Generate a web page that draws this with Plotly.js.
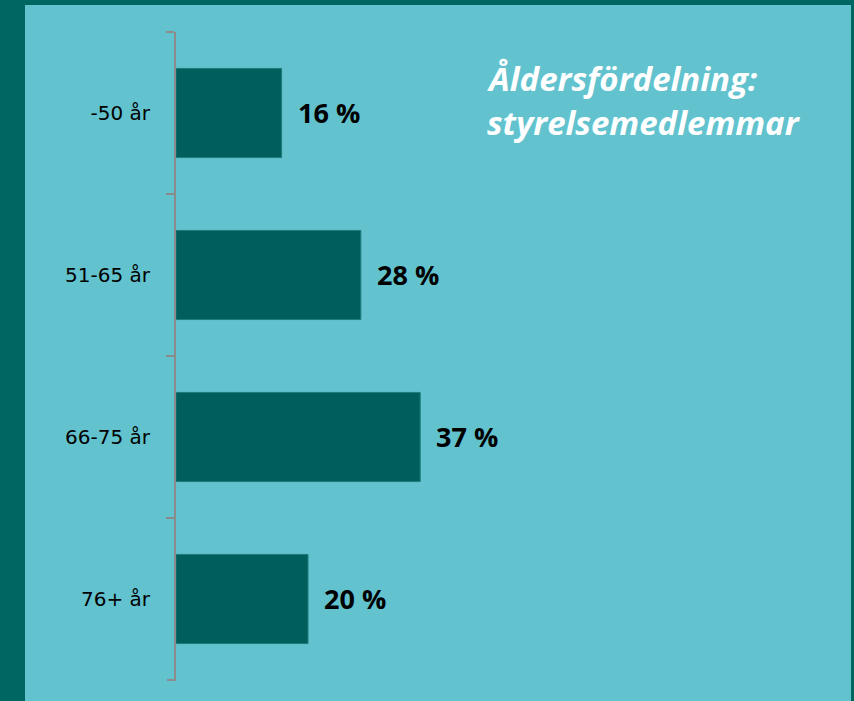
<!DOCTYPE html>
<html>
<head>
<meta charset="utf-8">
<script src="https://cdn.plot.ly/plotly-3.0.1.min.js"></script>
<style>
  html, body { margin: 0; padding: 0; background: #006661; width: 854px; height: 701px; overflow: hidden; }
  #chart { position: absolute; left: 25px; top: 5px; width: 826px; height: 696px; }
</style>
</head>
<body>
<div id="chart"></div>
<script>
// Data
const categories = ["-50 år", "51-65 år", "66-75 år", "76+ år"];
const shares = [16, 28, 37, 20];
const titleLines = ["Åldersfördelning:", "styrelsemedlemmar"];

const labelAnnotations = categories.map((c, i) => ({
  x: shares[i], y: c, xref: "x", yref: "y",
  text: shares[i] + " %", showarrow: false,
  xanchor: "left", yanchor: "middle", xshift: 14, yshift: 1,
  font: { family: "Open Sans", size: 27, color: "#000000", weight: 700 }
}));

const titleAnnotations = titleLines.map((t, i) => ({
  x: 0.468, y: [0.928, 0.861][i], xref: "paper", yref: "paper",
  text: "<b><i>" + t + "</i></b>", showarrow: false,
  xanchor: "left", yanchor: "middle",
  font: { family: "Open Sans", size: 33, color: "#ffffff" }
}));

const trace = {
  type: "bar",
  orientation: "h",
  x: shares,
  y: categories,
  marker: { color: "#005F5C", line: { color: "#1E7B79", width: 1 } },
  hoverinfo: "none"
};

const layout = {
  width: 826, height: 696,
  margin: { l: 151, r: 15, t: 27, b: 21 },
  paper_bgcolor: "#62C3CF",
  plot_bgcolor: "rgba(0,0,0,0)",
  showlegend: false,
  bargap: 0.45,
  xaxis: { visible: false, range: [0, 100], fixedrange: true },
  yaxis: {
    type: "category", range: [3.5, -0.5],
    showline: true, linecolor: "#8C8C8C", linewidth: 2,
    ticks: "outside", tickson: "boundaries", ticklen: 8, tickcolor: "#8C8C8C", tickwidth: 2,
    showgrid: false, zeroline: false,
    tickfont: { family: "DejaVu Sans", size: 20, color: "#000000" },
    ticklabelstandoff: 20
  },
  shapes: [{
    type: "line", xref: "paper", yref: "paper",
    xsizemode: "pixel", xanchor: 0, x0: -9, x1: 0,
    y0: 0, y1: 0,
    line: { color: "#8C8C8C", width: 2 }
  }],
  annotations: labelAnnotations.concat(titleAnnotations)
};

Plotly.newPlot("chart", [trace], layout, { displayModeBar: false, staticPlot: true });
</script>
</body>
</html>
